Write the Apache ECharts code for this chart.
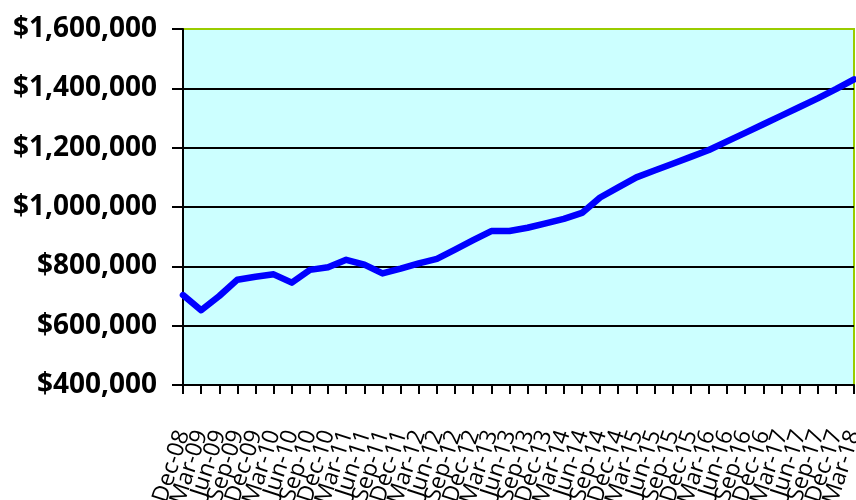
<!DOCTYPE html>
<html>
<head>
<meta charset="utf-8">
<script src="https://cdn.jsdelivr.net/npm/echarts@6/dist/echarts.min.js"></script>
<style>
  html, body { margin: 0; padding: 0; background: #fff; }
  #chart { width: 856px; height: 500px; }
</style>
</head>
<body>
<div id="chart"></div>
<script>
// Quarterly labels
var quarters = [
    'Dec-08', 'Mar-09', 'Jun-09', 'Sep-09', 'Dec-09', 'Mar-10', 'Jun-10', 'Sep-10',
    'Dec-10', 'Mar-11', 'Jun-11', 'Sep-11', 'Dec-11', 'Mar-12', 'Jun-12', 'Sep-12',
    'Dec-12', 'Mar-13', 'Jun-13', 'Sep-13', 'Dec-13', 'Mar-14', 'Jun-14', 'Sep-14',
    'Dec-14', 'Mar-15', 'Jun-15', 'Sep-15', 'Dec-15', 'Mar-16', 'Jun-16', 'Sep-16',
    'Dec-16', 'Mar-17', 'Jun-17', 'Sep-17', 'Dec-17', 'Mar-18'
];

// Values
var values = [
    703000, 652000, 700000, 755000, 765000, 773000, 745000, 788000,
    797000, 822000, 806000, 776000, 792000, 810000, 825000, 856000,
    888000, 919000, 919000, 930000, 945000, 960000, 980000, 1032000,
    1066000, 1100000, 1123000, 1146000, 1169000, 1192000, 1221000, 1250000,
    1279000, 1308000, 1337000, 1366000, 1397000, 1430000
];

var yMin = 400000;
var yMax = 1600000;
var yStep = 200000;

function money(v) {
    return '$' + String(v).replace(/\B(?=(\d{3})+(?!\d))/g, ',');
}

var chart = echarts.init(document.getElementById('chart'));

var option = {
    animation: false,
    grid: {
        left: 183,
        right: 2,
        top: 29,
        bottom: 115,
        containLabel: false,
        outerBoundsMode: 'none',
        show: true,
        backgroundColor: '#CCFFFF',
        borderColor: '#99CC00',
        borderWidth: 2
    },
    xAxis: {
        type: 'category',
        data: quarters,
        boundaryGap: false,
        axisLine: { lineStyle: { color: '#000', width: 2 } },
        axisTick: { show: true, length: 9, alignWithLabel: true, lineStyle: { color: '#000', width: 2 } },
        axisLabel: {
            interval: 0,
            rotate: 72,
            margin: 46,
            color: '#000',
            fontFamily: 'Open Sans',
            fontSize: 23,
            hideOverlap: false
        },
        splitLine: { show: false }
    },
    yAxis: {
        type: 'value',
        min: yMin,
        max: yMax,
        interval: yStep,
        axisLine: { show: true, lineStyle: { color: '#000', width: 2 } },
        axisTick: { show: true, length: 11, lineStyle: { color: '#000', width: 2 } },
        axisLabel: {
            margin: 26,
            color: '#000',
            fontFamily: 'Open Sans',
            fontWeight: 'bold',
            fontSize: 28,
            formatter: money
        },
        splitLine: {
            show: true,
            lineStyle: {
                color: ['#000', '#000', '#000', '#000', '#000', '#000', '#99CC00'],
                width: 2
            }
        }
    },
    series: [{
        type: 'line',
        data: values,
        showSymbol: false,
        symbol: 'none',
        lineStyle: { color: '#0000FF', width: 6.5, cap: 'round', join: 'round' }
    }]
};

chart.setOption(option);
</script>
</body>
</html>
